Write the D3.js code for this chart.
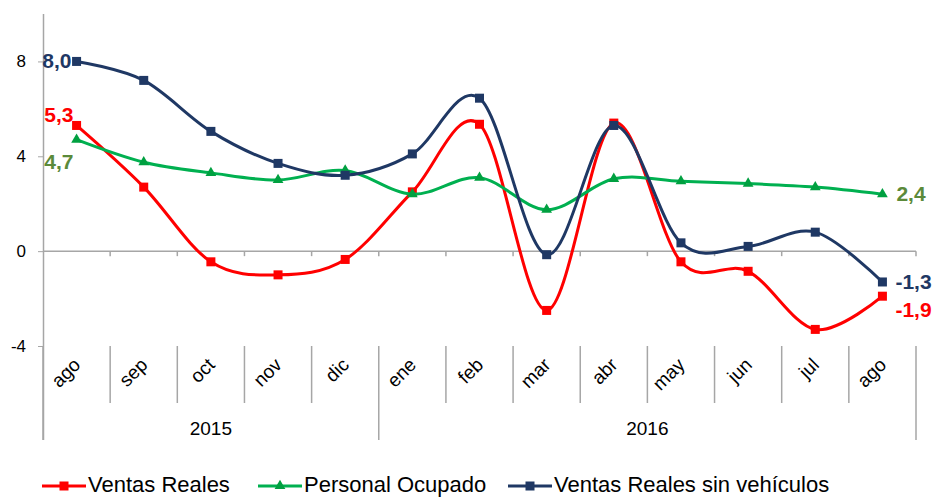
<!DOCTYPE html>
<html><head><meta charset="utf-8">
<script src="https://cdn.jsdelivr.net/npm/d3@7"></script>
<style>body{margin:0;background:#fff}svg{display:block;font-family:"Liberation Sans",Arial,sans-serif}</style>
</head><body>
<svg id="c" width="933" height="497"></svg>
<script>
const months = ["ago","sep","oct","nov","dic","ene","feb","mar","abr","may","jun","jul","ago"];
const years = [{label:"2015", from:0, to:5},{label:"2016", from:5, to:13}];
const ventas = [5.3, 2.7, -0.45, -1.0, -0.35, 2.5, 5.35, -2.5, 5.4, -0.45, -0.85, -3.3, -1.9];
const personal = [4.7, 3.75, 3.3, 3.0, 3.4, 2.4, 3.1, 1.75, 3.05, 2.95, 2.85, 2.7, 2.4];
const sinVeh = [8.0, 7.2, 5.05, 3.7, 3.2, 4.1, 6.45, -0.15, 5.3, 0.35, 0.2, 0.8, -1.3];
const yTicks = [-4, 0, 4, 8];
const seriesNames = ["Ventas Reales","Personal Ocupado","Ventas Reales sin vehículos"];

const svg = d3.select("#c");
const L = 43, R = 916;
const x = d3.scaleBand().domain(d3.range(months.length)).range([L, R]);
const y = d3.scaleLinear().domain([-4, 10]).range([346, 14]);
const cx = i => x(i) + x.bandwidth()/2;
const axisCol = "#a6a6a6";
const hy = s => String(s).replace("\u2212", "-");

// y axis
const ya = svg.append("g").attr("transform", `translate(${L},0)`)
  .call(d3.axisLeft(y).tickValues(yTicks).tickSize(5).tickPadding(12).tickFormat(d => hy(d3.format("d")(d))));
ya.select(".domain").remove();
ya.selectAll(".tick line").attr("stroke", axisCol);
ya.selectAll(".tick text").attr("font-size", 17).attr("fill", "#000").attr("font-family","Liberation Sans, Arial");
svg.append("line").attr("x1", L+0.5).attr("x2", L+0.5).attr("y1", 14).attr("y2", 440).attr("stroke", axisCol).attr("stroke-width", 1.5);

// zero axis line with ticks
svg.append("line").attr("x1", L).attr("x2", R).attr("y1", y(0)).attr("y2", y(0)).attr("stroke", axisCol).attr("stroke-width", 1.5);
const bounds = d3.range(months.length + 1).map(i => i < months.length ? x(i) : R);
bounds.slice(1).forEach(b => {
  svg.append("line").attr("x1", b).attr("x2", b).attr("y1", y(0)).attr("y2", y(0)+5).attr("stroke", axisCol).attr("stroke-width", 1.5);
});
// label area separators
const yearBounds = new Set(years.flatMap(yy => [yy.from, yy.to]));
bounds.forEach((b, i) => {
  svg.append("line").attr("x1", b).attr("x2", b).attr("y1", 346).attr("y2", yearBounds.has(i) ? 440 : 403)
    .attr("stroke", axisCol).attr("stroke-width", 1.5);
});
// month labels
months.forEach((m, i) => {
  svg.append("text").attr("transform", `translate(${cx(i)+5},${366}) rotate(-45)`)
    .attr("text-anchor", "end").attr("font-size", 19).attr("fill", "#000").text(m);
});
// year labels
years.forEach(yy => {
  const xm = ((yy.from < months.length ? x(yy.from) : R) + (yy.to < months.length ? x(yy.to) : R)) / 2;
  svg.append("text").attr("x", xm).attr("y", 435).attr("text-anchor", "middle").attr("font-size", 19).attr("fill", "#000").text(yy.label);
});

const line = d3.line().x((d, i) => cx(i)).y(d => y(d)).curve(d3.curveCardinal.tension(0));
const series = [
  {name: seriesNames[0], vals: ventas, color: "#ff0000", mcolor: "#ff0000", marker: "square"},
  {name: seriesNames[1], vals: personal, color: "#00b050", mcolor: "#00a040", marker: "triangle"},
  {name: seriesNames[2], vals: sinVeh, color: "#1f3864", mcolor: "#1f3864", marker: "square"}
];
function drawMarker(g, type, px, py, col) {
  if (type === "square") {
    g.append("rect").attr("x", px-4.5).attr("y", py-4.5).attr("width", 9).attr("height", 9).attr("fill", col);
  } else {
    g.append("path").attr("d", d3.symbol(d3.symbolTriangle, 50)()).attr("transform", `translate(${px},${py})`).attr("fill", col);
  }
}
series.forEach(s => {
  const g = svg.append("g");
  g.append("path").attr("d", line(s.vals)).attr("fill", "none").attr("stroke", s.color).attr("stroke-width", 3);
  s.vals.forEach((v, i) => drawMarker(g, s.marker, cx(i), y(v), s.mcolor));
});

// data labels
const fmt = v => hy(d3.format(".1f")(v)).replace(".", ",");
const last = months.length - 1;
const lab = (txt, px, py, anchor, col) => svg.append("text").attr("x", px).attr("y", py).attr("text-anchor", anchor)
  .attr("font-size", 21).attr("font-weight", "bold").attr("fill", col).text(txt);
lab(fmt(sinVeh[0]), cx(0)-5, y(sinVeh[0])+7, "end", "#1f3864");
lab(fmt(ventas[0]), cx(0)-3, y(ventas[0])-3, "end", "#ff0000");
lab(fmt(personal[0]), cx(0)-3, y(personal[0])+29, "end", "#5b8a3a");
lab(fmt(personal[last]), cx(last)+14, y(personal[last])+7, "start", "#5b8a3a");
lab(fmt(sinVeh[last]), cx(last)+13, y(sinVeh[last])+7, "start", "#1f3864");
lab(fmt(ventas[last]), cx(last)+13, y(ventas[last])+21, "start", "#ff0000");

// legend
const legX = [42, 258, 508];
series.forEach((s, i) => {
  const g = svg.append("g");
  const ly = 486;
  g.append("line").attr("x1", legX[i]).attr("x2", legX[i]+44).attr("y1", ly).attr("y2", ly).attr("stroke", s.color).attr("stroke-width", 3);
  drawMarker(g, s.marker, legX[i]+22, ly, s.mcolor);
  g.append("text").attr("x", legX[i]+46).attr("y", 492).attr("font-size", 22).attr("fill", "#000").text(s.name);
});
</script>
</body></html>
